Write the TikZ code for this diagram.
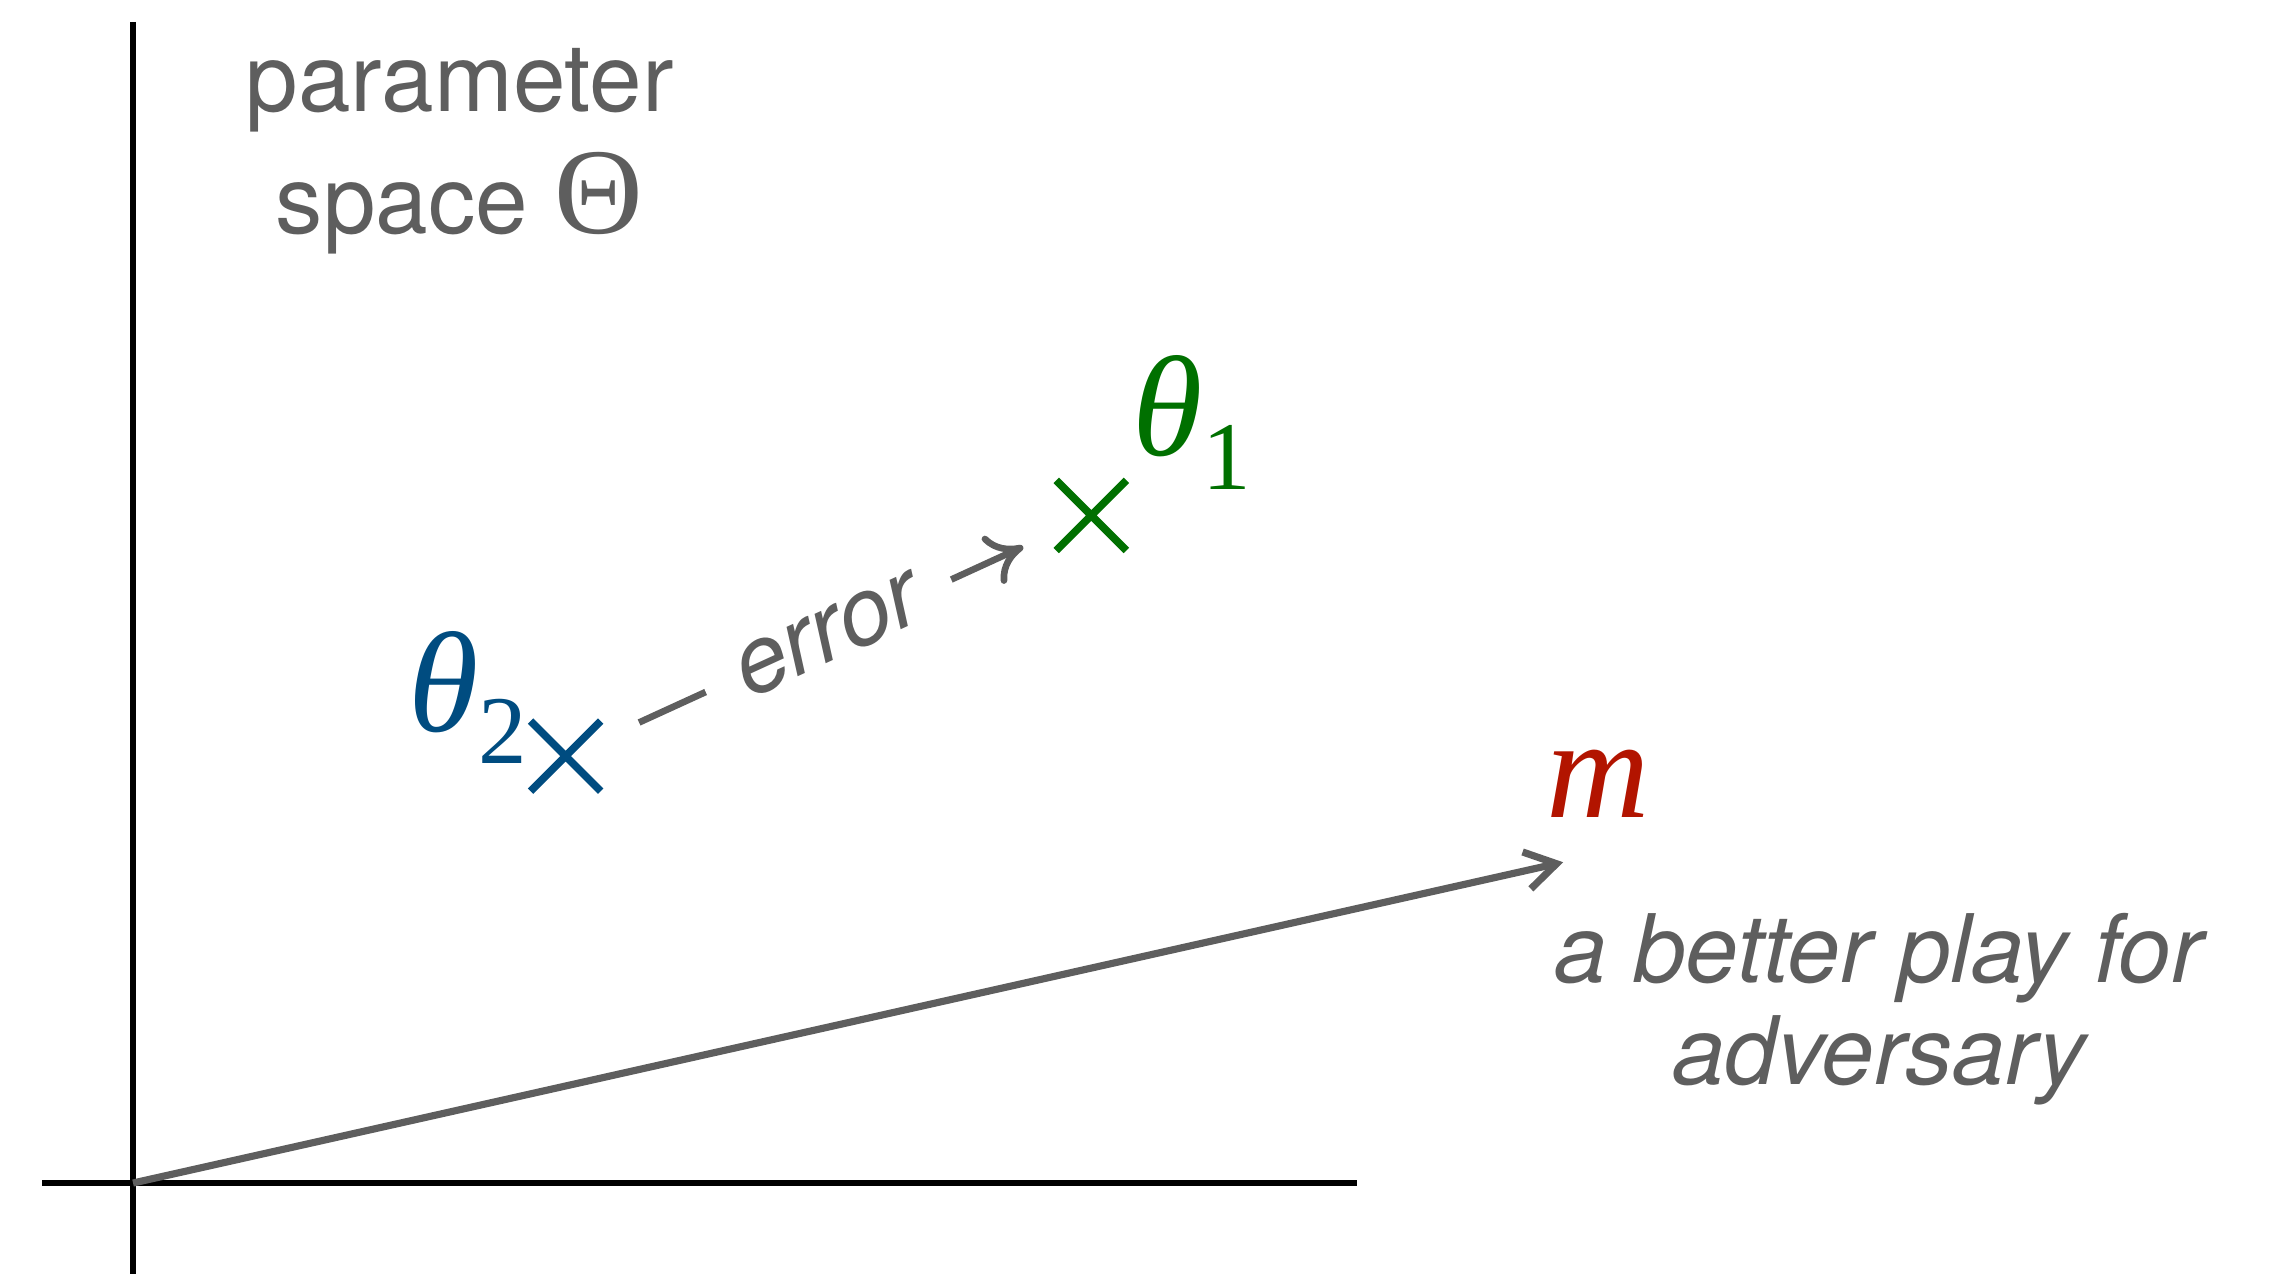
\documentclass[tikz,border=0pt]{standalone}
\usepackage{fontspec}
\setmainfont{TeX Gyre Heros}
\newfontfamily\timesfont{Liberation Serif}
\usetikzlibrary{arrows.meta,shapes.misc}
\definecolor{LabelGray}{RGB}{94,94,94}
\definecolor{ThetaBlue}{RGB}{0,76,128}
\definecolor{ThetaGreen}{RGB}{0,112,0}
\definecolor{PlayRed}{RGB}{178,20,0}

\begin{document}
\begin{tikzpicture}[every node/.style={align=center,inner sep=0pt},
    sanslabel/.style={text=LabelGray,font=\fontsize{18.5}{24}\selectfont},
    notelabel/.style={text=LabelGray,font=\fontsize{18.5}{20}\selectfont\itshape},
    thetalabel/.style={anchor=base west,font=\timesfont\fontsize{28}{28}\selectfont\itshape},
    crossmark/.style={cross out,draw,line width=1.5pt,minimum size=0.43cm}]
        \useasboundingbox (0,0) rectangle (15.68,8.76);

        % axes
        \coordinate (yaxtop) at (0.915,8.61);
        \coordinate (yaxbot) at (0.915,0);
        \coordinate (xaxleft) at (0.29,0.624);
        \coordinate (xaxright) at (9.33,0.624);
        \coordinate (O) at (0.915,0.624);
        \draw[line width=1.1pt] (yaxtop) -- (yaxbot);
        \draw[line width=1.1pt] (xaxleft) -- (xaxright);

        \node[sanslabel] (space) at (3.16,7.72)
          {parameter\\space {\timesfont\fontsize{24}{24}\selectfont Θ}};

        % the two parameters
        \node[crossmark,draw=ThetaGreen] (t1) at (7.505,5.215) {};
        \node[crossmark,draw=ThetaBlue] (t2) at (3.89,3.56) {};
        \node[thetalabel,text=ThetaGreen] (t1lab) at (7.78,5.63)
          {θ\raisebox{-0.24cm}{\fontsize{19}{19}\selectfont\upshape 1}};
        \node[thetalabel,text=ThetaBlue] (t2lab) at (2.80,3.73)
          {θ\raisebox{-0.22cm}{\fontsize{19}{19}\selectfont\upshape 2}};

        \draw[-{To[length=2.4mm,width=3.6mm]},line width=1.3pt,LabelGray,
          shorten <=0.29cm,shorten >=0.25cm] (t2) --
          node[sloped,fill=white,inner xsep=0.25cm,inner ysep=0.1cm,
            font=\fontsize{18.5}{24}\selectfont\itshape] (err) {error} (t1);

        % the adversary's play
        \coordinate (mtip) at (10.75,2.83);
        \draw[-{Straight Barb[length=2.1mm,width=2.6mm]},line width=1.4pt,LabelGray]
          (O) -- (mtip);
        \node[thetalabel,text=PlayRed] (m) at (10.63,3.14) {m};
        \node[notelabel] (play) at (12.92,1.82) {a better play for\\adversary};
\end{tikzpicture}
\end{document}
